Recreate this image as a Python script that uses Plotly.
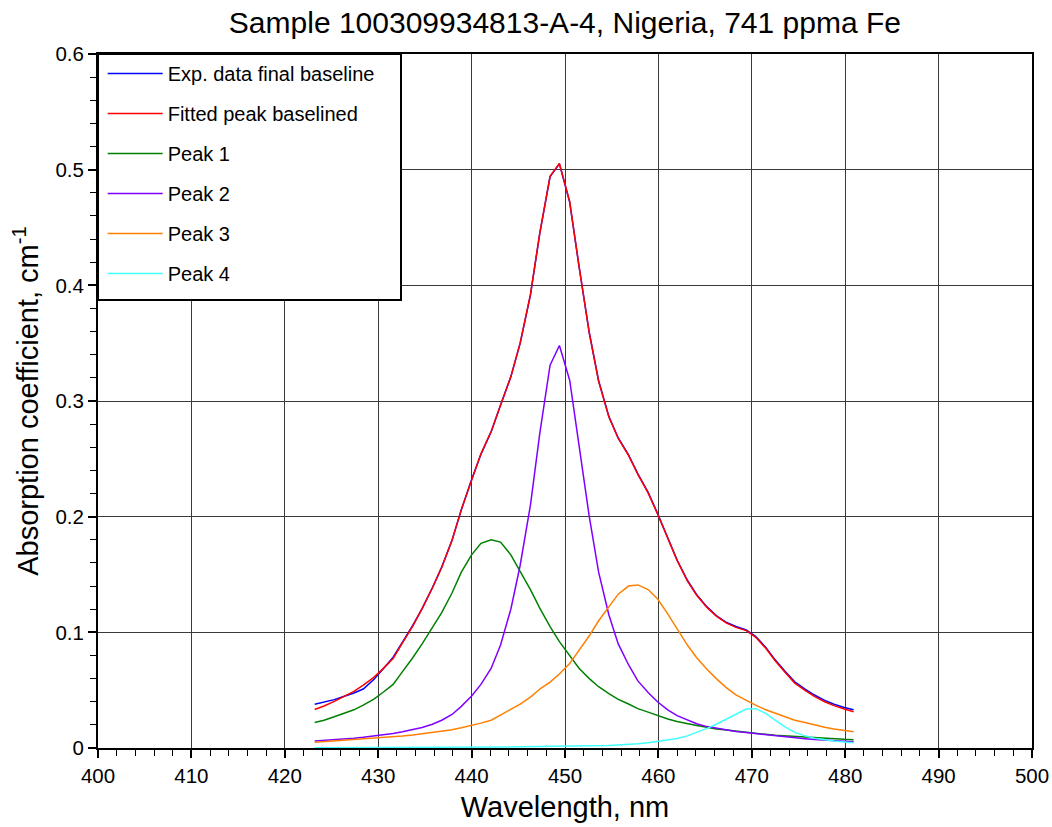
import plotly.graph_objects as go

wavelength = [423.2, 424.2, 425.3, 426.3, 427.4, 428.4, 429.5, 430.5, 431.6, 432.6,
              433.7, 434.7, 435.8, 436.8, 437.9, 438.9, 440.0, 441.0, 442.1, 443.1,
              444.2, 445.2, 446.3, 447.3, 448.4, 449.4, 450.5, 451.5, 452.6, 453.6,
              454.7, 455.7, 456.8, 457.8, 458.9, 459.9, 461.0, 462.0, 463.1, 464.1,
              465.2, 466.2, 467.3, 468.3, 469.4, 470.4, 471.5, 472.5, 473.6, 474.6,
              475.7, 476.7, 477.8, 478.8, 479.9, 480.9]

exp_data = [0.0378, 0.0395, 0.0418, 0.0445, 0.0475, 0.0510, 0.0590, 0.0680, 0.0785, 0.0915,
            0.1060, 0.1205, 0.1385, 0.1565, 0.1795, 0.2060, 0.2322, 0.2540, 0.2735, 0.2965,
            0.3210, 0.3500, 0.3915, 0.4450, 0.4940, 0.5050, 0.4720, 0.4165, 0.3590, 0.3175,
            0.2865, 0.2680, 0.2535, 0.2370, 0.2210, 0.2030, 0.1810, 0.1625, 0.1450, 0.1325,
            0.1220, 0.1145, 0.1085, 0.1050, 0.1020, 0.0965, 0.0870, 0.0762, 0.0660, 0.0572,
            0.0510, 0.0458, 0.0412, 0.0378, 0.0350, 0.0330]

fitted = [0.0333, 0.0363, 0.0403, 0.0447, 0.0490, 0.0544, 0.0608, 0.0684, 0.0774, 0.0908,
          0.1054, 0.1205, 0.1383, 0.1561, 0.1794, 0.2061, 0.2322, 0.2543, 0.2738, 0.2964,
          0.3209, 0.3500, 0.3921, 0.4452, 0.4943, 0.5054, 0.4725, 0.4166, 0.3588, 0.3170,
          0.2862, 0.2676, 0.2530, 0.2366, 0.2205, 0.2025, 0.1808, 0.1622, 0.1445, 0.1320,
          0.1215, 0.1140, 0.1080, 0.1043, 0.1015, 0.0959, 0.0862, 0.0754, 0.0650, 0.0561,
          0.0498, 0.0446, 0.0400, 0.0366, 0.0337, 0.0314]

peak1 = [0.022, 0.024, 0.027, 0.030, 0.033, 0.037, 0.042, 0.048, 0.055, 0.066,
         0.078, 0.090, 0.104, 0.117, 0.134, 0.152, 0.167, 0.177, 0.180, 0.178,
         0.167, 0.153, 0.137, 0.121, 0.105, 0.092, 0.080, 0.069, 0.060, 0.053,
         0.047, 0.042, 0.038, 0.034, 0.031, 0.028, 0.025, 0.023, 0.021, 0.0195,
         0.018, 0.0165, 0.0155, 0.0145, 0.0135, 0.0125, 0.0118, 0.011, 0.0104, 0.0098,
         0.0093, 0.0088, 0.0083, 0.0079, 0.0075, 0.0072]

peak2 = [0.006, 0.0065, 0.007, 0.0078, 0.0085, 0.0093, 0.0102, 0.0112, 0.0125, 0.014,
         0.0157, 0.0178, 0.0205, 0.024, 0.029, 0.036, 0.045, 0.055, 0.069, 0.089,
         0.120, 0.158, 0.210, 0.272, 0.331, 0.348, 0.318, 0.262, 0.200, 0.152,
         0.115, 0.090, 0.072, 0.058, 0.048, 0.040, 0.033, 0.028, 0.024, 0.021,
         0.0185, 0.017, 0.0155, 0.0143, 0.0133, 0.0124, 0.0114, 0.0104, 0.0096, 0.0088,
         0.0080, 0.0073, 0.0067, 0.0062, 0.0058, 0.0055]

peak3 = [0.005, 0.0055, 0.006, 0.0066, 0.0072, 0.0077, 0.0082, 0.0088, 0.0095, 0.0103,
         0.0112, 0.0122, 0.0133, 0.0145, 0.0158, 0.0175, 0.0195, 0.0215, 0.024, 0.0285,
         0.033, 0.038, 0.044, 0.051, 0.057, 0.064, 0.073, 0.084, 0.097, 0.110,
         0.122, 0.133, 0.140, 0.141, 0.137, 0.129, 0.116, 0.103, 0.089, 0.078,
         0.068, 0.060, 0.052, 0.046, 0.041, 0.037, 0.033, 0.030, 0.027, 0.024,
         0.022, 0.020, 0.018, 0.0165, 0.0152, 0.0141]

peak4 = [0.0003, 0.0003, 0.0003, 0.0003, 0.0003, 0.0004, 0.0004, 0.0004, 0.0004, 0.0005,
         0.0005, 0.0005, 0.0005, 0.0006, 0.0006, 0.0006, 0.0007, 0.00075, 0.0008, 0.00085,
         0.0009, 0.0010, 0.0011, 0.0012, 0.0013, 0.0014, 0.0015, 0.0016, 0.0018, 0.0020,
         0.0022, 0.0026, 0.0030, 0.0036, 0.0045, 0.0055, 0.0068, 0.0082, 0.0105, 0.0135,
         0.0170, 0.0205, 0.0250, 0.0295, 0.0337, 0.0340, 0.0300, 0.0240, 0.0180, 0.0135,
         0.0105, 0.0085, 0.0070, 0.0060, 0.0052, 0.0046]

series = [
    ("Exp. data final baseline", exp_data, "#0000FF"),
    ("Fitted peak baselined", fitted, "#FF0000"),
    ("Peak 1", peak1, "#008000"),
    ("Peak 2", peak2, "#8000FF"),
    ("Peak 3", peak3, "#FF8000"),
    ("Peak 4", peak4, "#40FFFF"),
]

FONT = "Liberation Sans, Arial, Helvetica, sans-serif"

fig = go.Figure()
for i, (name, vals, col) in enumerate(series):
    fig.add_trace(go.Scatter(x=wavelength, y=vals, mode="lines", name=name,
                             legendgroup=f"g{i}",
                             line=dict(color=col, width=1.5)))

axis_common = dict(
    showline=True, linecolor="black", linewidth=2, mirror=True,
    showgrid=True, gridcolor="#3a3a3a", gridwidth=1,
    ticks="outside", ticklen=8, tickwidth=1.5, tickcolor="black",
    zeroline=False, automargin=False,
    tickfont=dict(family=FONT, size=20.5, color="black"),
)

fig.update_xaxes(range=[400, 500], dtick=10, tick0=400,
                 minor=dict(dtick=2, ticks="outside", ticklen=6, tickcolor="black", tickwidth=1, showgrid=False),
                 title=dict(text="Wavelength, nm", font=dict(family=FONT, size=29, color="black"), standoff=11),
                 **axis_common)
fig.update_yaxes(range=[0, 0.6], dtick=0.1, tick0=0,
                 minor=dict(dtick=0.02, ticks="outside", ticklen=6, tickcolor="black", tickwidth=1, showgrid=False),
                 title=dict(text="Absorption coefficient, cm<sup>-1</sup>", font=dict(family=FONT, size=29, color="black"), standoff=8),
                 **axis_common)

# legend frame (white box with black border) drawn over the grid
fig.add_shape(type="rect", xref="paper", yref="paper",
              x0=0, x1=(401 - 98) / 934, y0=(748 - 300) / 694, y1=1,
              fillcolor="white", line=dict(color="black", width=2), layer="above")

fig.update_layout(
    width=1052, height=827,
    margin=dict(l=98, r=20, t=54, b=79),
    paper_bgcolor="white", plot_bgcolor="white",
    font=dict(family=FONT, color="black"),
    title=dict(text="Sample 100309934813-A-4, Nigeria, 741 ppma Fe",
               font=dict(family=FONT, size=30, color="black"),
               x=0.537, xanchor="center", y=0.973, yanchor="middle"),
    showlegend=True,
    legend=dict(x=0.005, y=1.0, xanchor="left", yanchor="top",
                bgcolor="rgba(0,0,0,0)", borderwidth=0,
                font=dict(family=FONT, size=20, color="black"),
                traceorder="grouped", tracegroupgap=11,
                itemwidth=55),
)

fig.write_html("out.html")
